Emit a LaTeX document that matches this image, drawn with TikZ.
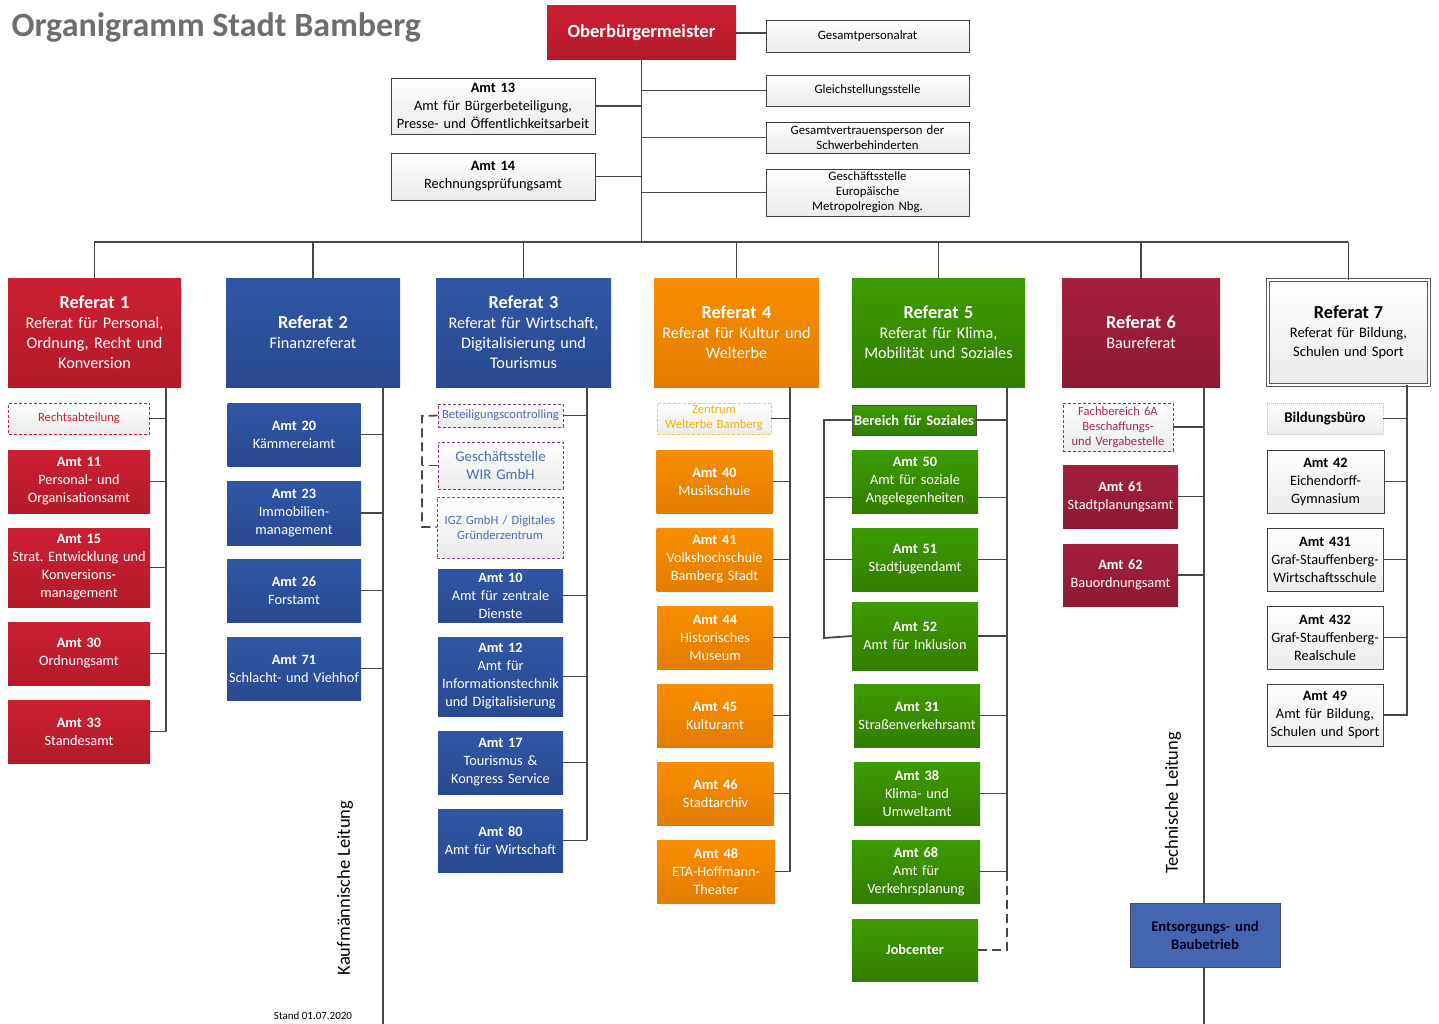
\documentclass[tikz,border=0pt]{standalone}
\usepackage{fontspec}
\setmainfont{Carlito}
\usetikzlibrary{positioning}
\frenchspacing

\definecolor{linegray}{HTML}{474747}
\definecolor{redA}{HTML}{CC1F31}
\definecolor{redB}{HTML}{B21B2A}
\definecolor{blueA}{HTML}{2F56A6}
\definecolor{blueB}{HTML}{2A4A90}
\definecolor{orangeA}{HTML}{FA8E00}
\definecolor{orangeB}{HTML}{E37C00}
\definecolor{greenA}{HTML}{3C9C00}
\definecolor{greenB}{HTML}{327D00}
\definecolor{crimA}{HTML}{A61F3E}
\definecolor{crimB}{HTML}{8C1A33}
\definecolor{paleA}{HTML}{FFFFFF}
\definecolor{paleB}{HTML}{EBEBEB}
\definecolor{ebbblue}{HTML}{4466B0}
\definecolor{txtred}{HTML}{D0202E}
\definecolor{txtblue}{HTML}{4A6DB8}
\definecolor{txtyellow}{HTML}{F2B300}
\definecolor{txtcrim}{HTML}{A7294A}
\definecolor{titlegray}{HTML}{6E6E6E}

\newcommand{\amtfont}{\fontsize{14.3}{18}\selectfont}
\newcommand{\reffont}{\fontsize{16.2}{20}\selectfont}
\newcommand{\stafffont}{\fontsize{12.8}{15}\selectfont}
\newcommand{\reftitle}[1]{{\fontsize{18.3}{20}\selectfont\bfseries #1}}

\tikzset{
  conn/.style={draw=linegray, line width=1.8pt},
  dconn/.style={conn, dash pattern=on 9pt off 5pt},
  sz/.style 2 args={minimum width=#1, minimum height=#2, text width=#1},
  box/.style={inner sep=0pt, align=center, font=\amtfont},
  refbox/.style={box, font=\reffont},
  redbox/.style={box, top color=redA, bottom color=redB, text=white},
  bluebox/.style={box, top color=blueA, bottom color=blueB, text=white},
  orangebox/.style={box, top color=orangeA, bottom color=orangeB, text=white},
  greenbox/.style={box, top color=greenA, bottom color=greenB, text=white},
  crimbox/.style={box, top color=crimA, bottom color=crimB, text=white},
  palebox/.style={box, top color=paleA, bottom color=paleB, draw=black!75, line width=0.7pt, text=black},
  staffbox/.style={palebox, font=\stafffont},
  dashbox/.style={box, top color=paleA, bottom color=paleB, line width=0.8pt, dash pattern=on 3pt off 2pt, font=\fontsize{12.6}{15}\selectfont},
  vtext/.style={rotate=90, font=\fontsize{18.5}{20}\selectfont, text=black}
}

\begin{document}
\begin{tikzpicture}[x=1pt, y=-1pt]
\useasboundingbox (0,0) rectangle (1439,1024);

% Kopf
\node[anchor=west, text=titlegray, font=\fontsize{34}{36}\selectfont\bfseries] (title) at (8,27) {Organigramm Stadt Bamberg};
\node[redbox, sz={189}{54}, font=\fontsize{18.6}{20}\selectfont\bfseries] (ob) at (641.5,33) {Oberbürgermeister};

% Stabsstellen
\node[staffbox, sz={203}{32}] (gpr) at (867.5,36) {Gesamtpersonalrat};
\node[staffbox, sz={203}{31}] (gls) at (867.5,90.5) {Gleichstellungsstelle};
\node[staffbox, sz={203}{31}] (gvp) at (867.5,137.5) {Gesamtvertrauensperson der\\Schwerbehinderten};
\node[staffbox, sz={203}{47}] (emn) at (867.5,192.5) {Geschäftsstelle\\Europäische\\Metropolregion Nbg.};
\node[palebox, sz={204}{56}] (a13) at (493,106) {\textbf{Amt 13}\\Amt für Bürgerbeteiligung,\\Presse- und Öffentlichkeitsarbeit};
\node[palebox, sz={204}{47}] (a14) at (493,176.5) {\textbf{Amt 14}\\Rechnungsprüfungsamt};

% Referate
\node[redbox, refbox, sz={173}{109}] (r1) at (94.5,332.5) {\reftitle{Referat 1}\\Referat für Personal,\\Ordnung, Recht und\\Konversion};
\node[bluebox, refbox, sz={174}{109}] (r2) at (313,332.5) {\reftitle{Referat 2}\\Finanzreferat\\[18pt]};
\node[bluebox, refbox, sz={175}{109}] (r3) at (523.5,332.5) {\reftitle{Referat 3}\\Referat für Wirtschaft,\\Digitalisierung und\\Tourismus};
\node[orangebox, refbox, sz={165}{109}] (r4) at (736.5,332.5) {\reftitle{Referat 4}\\Referat für Kultur und\\Welterbe};
\node[greenbox, refbox, sz={173}{109}] (r5) at (938.5,332.5) {\reftitle{Referat 5}\\Referat für Klima,\\Mobilität und Soziales};
\node[crimbox, refbox, sz={158}{109}] (r6) at (1141,332.5) {\reftitle{Referat 6}\\Baureferat\\[18pt]};
\node[palebox, sz={161}{105}, draw=black!65, double=white, double distance=2.5pt, line width=0.7pt, font=\fontsize{14.5}{19}\selectfont] (r7) at (1348.5,332.5) {\reftitle{Referat 7}\\Referat für Bildung,\\Schulen und Sport};

% Referat 1
\node[dashbox, sz={141}{31}, draw=txtred, text=txtred] (recht) at (79,418.5) {Rechtsabteilung};
\node[redbox, sz={142}{63}] (a11) at (79,481.5) {\textbf{Amt 11}\\Personal- und\\Organisationsamt};
\node[redbox, sz={142}{79}] (a15) at (79,567.5) {\textbf{Amt 15}\\Strat. Entwicklung und\\Konversions-\\management};
\node[redbox, sz={142}{63}] (a30) at (79,653.5) {\textbf{Amt 30}\\Ordnungsamt};
\node[redbox, sz={142}{63}] (a33) at (79,731.5) {\textbf{Amt 33}\\Standesamt};

% Referat 2
\node[bluebox, sz={133}{63}] (a20) at (294,434.5) {\textbf{Amt 20}\\Kämmereiamt};
\node[bluebox, sz={134}{64}] (a23) at (294,513) {\textbf{Amt 23}\\Immobilien-\\management};
\node[bluebox, sz={134}{63}] (a26) at (294,590.5) {\textbf{Amt 26}\\Forstamt};
\node[bluebox, sz={134}{63}] (a71) at (294,668.5) {\textbf{Amt 71}\\Schlacht- und Viehhof};
\node[vtext] (kfm) at (345,888) {Kaufmännische Leitung};
\node[anchor=south, font=\fontsize{11}{12}\selectfont] (stand) at (313,1023) {Stand 01.07.2020};

% Referat 3
\node[dashbox, sz={125}{23}, draw=violet!55!gray, text=txtblue] (betc) at (500.5,415.5) {Beteiligungscontrolling};
\node[dashbox, sz={125}{47}, draw=violet!55!gray, text=txtblue, font=\fontsize{14.8}{18}\selectfont] (wir) at (500.5,465.5) {Geschäftsstelle\\WIR GmbH};
\node[dashbox, sz={126}{61}, draw=violet!40!gray, text=txtblue] (igz) at (500,527.5) {IGZ GmbH / Digitales\\Gründerzentrum};
\node[bluebox, sz={125}{53}] (a10) at (500.5,595.5) {\textbf{Amt 10}\\Amt für zentrale\\Dienste};
\node[bluebox, sz={125}{79}] (a12) at (500.5,676.5) {\textbf{Amt 12}\\Amt für\\Informationstechnik\\und Digitalisierung};
\node[bluebox, sz={125}{63}] (a17) at (500.5,762.5) {\textbf{Amt 17}\\Tourismus \&\\Kongress Service};
\node[bluebox, sz={125}{63}] (a80) at (500.5,840.5) {\textbf{Amt 80}\\Amt für Wirtschaft};

% Referat 4
\node[dashbox, sz={114}{31}, draw=txtyellow!70, text=txtyellow] (zwb) at (714,418.5) {Zentrum\\Welterbe Bamberg};
\node[orangebox, sz={116}{63}] (a40) at (714.5,481.5) {\textbf{Amt 40}\\Musikschule};
\node[orangebox, sz={116}{63}] (a41) at (714.5,559.5) {\textbf{Amt 41}\\Volkshochschule\\Bamberg Stadt};
\node[orangebox, sz={116}{63}] (a44) at (715,637.5) {\textbf{Amt 44}\\Historisches\\Museum};
\node[orangebox, sz={116}{63}] (a45) at (715,715.5) {\textbf{Amt 45}\\Kulturamt};
\node[orangebox, sz={117}{63}] (a46) at (715.5,793.5) {\textbf{Amt 46}\\Stadtarchiv};
\node[orangebox, sz={118}{63}] (a48) at (716,871.5) {\textbf{Amt 48}\\ETA-Hoffmann-\\Theater};

% Referat 5
\node[greenbox, sz={124}{30}, draw=black!70, line width=0.8pt, font=\fontsize{14.5}{18}\selectfont\bfseries] (bfs) at (914,420) {Bereich für Soziales};
\node[greenbox, sz={126}{63}] (a50) at (915,481.5) {\textbf{Amt 50}\\Amt für soziale\\Angelegenheiten};
\node[greenbox, sz={126}{63}] (a51) at (915,559.5) {\textbf{Amt 51}\\Stadtjugendamt};
\node[greenbox, sz={126}{68}] (a52) at (915,636) {\textbf{Amt 52}\\Amt für Inklusion};
\node[greenbox, sz={126}{63}] (a31) at (917,715.5) {\textbf{Amt 31}\\Straßenverkehrsamt};
\node[greenbox, sz={126}{63}] (a38) at (917,793.5) {\textbf{Amt 38}\\Klima- und\\Umweltamt};
\node[greenbox, sz={128}{63}] (a68) at (916,871.5) {\textbf{Amt 68}\\Amt für\\Verkehrsplanung};
\node[greenbox, sz={126}{62}] (job) at (915,950) {\textbf{Jobcenter}};

% Referat 6
\node[dashbox, sz={110}{48}, draw=txtcrim, text=txtcrim] (fb6a) at (1118,427) {Fachbereich 6A\\Beschaffungs-\\und Vergabestelle};
\node[crimbox, sz={115}{63}] (a61) at (1120.5,496.5) {\textbf{Amt 61}\\Stadtplanungsamt};
\node[crimbox, sz={115}{62}] (a62) at (1120.5,575) {\textbf{Amt 62}\\Bauordnungsamt};
\node[vtext] (tec) at (1173,803) {Technische Leitung};
\node[box, sz={150}{64}, fill=ebbblue, draw=black!70, line width=0.8pt, text=black!85!blue, font=\fontsize{14.7}{18}\selectfont\bfseries] (ebb) at (1205,935) {Entsorgungs- und\\Baubetrieb};

% Referat 7
\node[palebox, sz={116}{31}, draw=black!25, dash pattern=on 1pt off 1pt, font=\fontsize{14.8}{18}\selectfont\bfseries] (bbuero) at (1325,418.5) {Bildungsbüro};
\node[palebox, sz={117}{63}] (a42) at (1325.5,481.5) {\textbf{Amt 42}\\Eichendorff-\\Gymnasium};
\node[palebox, sz={116}{63}] (a431) at (1325,559.5) {\textbf{Amt 431}\\Graf-Stauffenberg-\\Wirtschaftsschule};
\node[palebox, sz={116}{63}] (a432) at (1325,637.5) {\textbf{Amt 432}\\Graf-Stauffenberg-\\Realschule};
\node[palebox, sz={116}{62}] (a49) at (1325,715) {\textbf{Amt 49}\\Amt für Bildung,\\Schulen und Sport};

% Hilfspunkte
\coordinate (busL) at (94,242);
\coordinate (busR) at (1348,242);
\coordinate (v1) at (166,732);
\coordinate (v2) at (383,1024);
\coordinate (v3) at (587,840);
\coordinate (v4) at (790,872);
\coordinate (v5) at (1007,872);
\coordinate (v5j) at (1007,950);
\coordinate (l5) at (824,638);
\coordinate (v6) at (1204,1024);
\coordinate (v7) at (1407,716);
\coordinate (d3a) at (422,416);
\coordinate (d3b) at (422,527);

% Verbindungen
\draw[conn] (ob.east) -- (ob.east -| gpr.west);
\draw[conn] (ob.south) -- (ob.south |- busL);
\foreach \n in {gls,gvp,emn} \draw[conn] (\n.west) -- (\n.west -| ob.south);
\foreach \n in {a13,a14} \draw[conn] (\n.east) -- (\n.east -| ob.south);
\draw[conn] (busL) -- (busR);
\foreach \r in {r1,r2,r3,r4,r5,r6,r7} \draw[conn] (\r.north) -- (\r.north |- busL);

\draw[conn] (r1.south -| v1) -- (v1);
\foreach \n in {recht,a11,a15,a30,a33} \draw[conn] (\n.east) -- (\n.east -| v1);
\draw[conn] (r2.south -| v2) -- (v2);
\foreach \n in {a20,a23,a26,a71} \draw[conn] (\n.east) -- (\n.east -| v2);
\draw[conn] (r3.south -| v3) -- (v3);
\foreach \n in {betc,a10,a12,a17,a80} \draw[conn] (\n.east) -- (\n.east -| v3);
\draw[dconn] (betc.west) -- (d3a) -- (d3b) -- (d3b -| igz.west);
\draw[dconn] (wir.west) -- (wir.west -| d3a);
\draw[conn] (r4.south -| v4) -- (v4);
\foreach \n in {zwb,a40,a41,a44,a45,a46,a48} \draw[conn] (\n.east) -- (\n.east -| v4);
\draw[conn] (r5.south -| v5) -- (v5);
\foreach \n in {bfs,a51,a52,a31,a38,a68} \draw[conn] (\n.east) -- (\n.east -| v5);
\draw[conn] ([yshift=-16pt]a50.east) -- ([yshift=-16pt]a50.east -| v5);
\draw[dconn] (v5) -- (v5j) -- (job.east);
\draw[conn] (bfs.west) -| (l5) -- (a52.west);
\draw[conn] (a51.west) -- (a51.west -| l5);
\draw[conn] ([yshift=-16pt]a50.west) -- ([yshift=-16pt]a50.west -| l5);
\draw[conn] (r6.south -| v6) -- (ebb.north -| v6);
\draw[conn] (ebb.south -| v6) -- (v6);
\foreach \n in {fb6a,a61,a62} \draw[conn] (\n.east) -- (\n.east -| v6);
\draw[conn] (r7.south -| v7) -- (v7);
\foreach \n in {bbuero,a42,a431,a432,a49} \draw[conn] (\n.east) -- (\n.east -| v7);
\end{tikzpicture}
\end{document}
